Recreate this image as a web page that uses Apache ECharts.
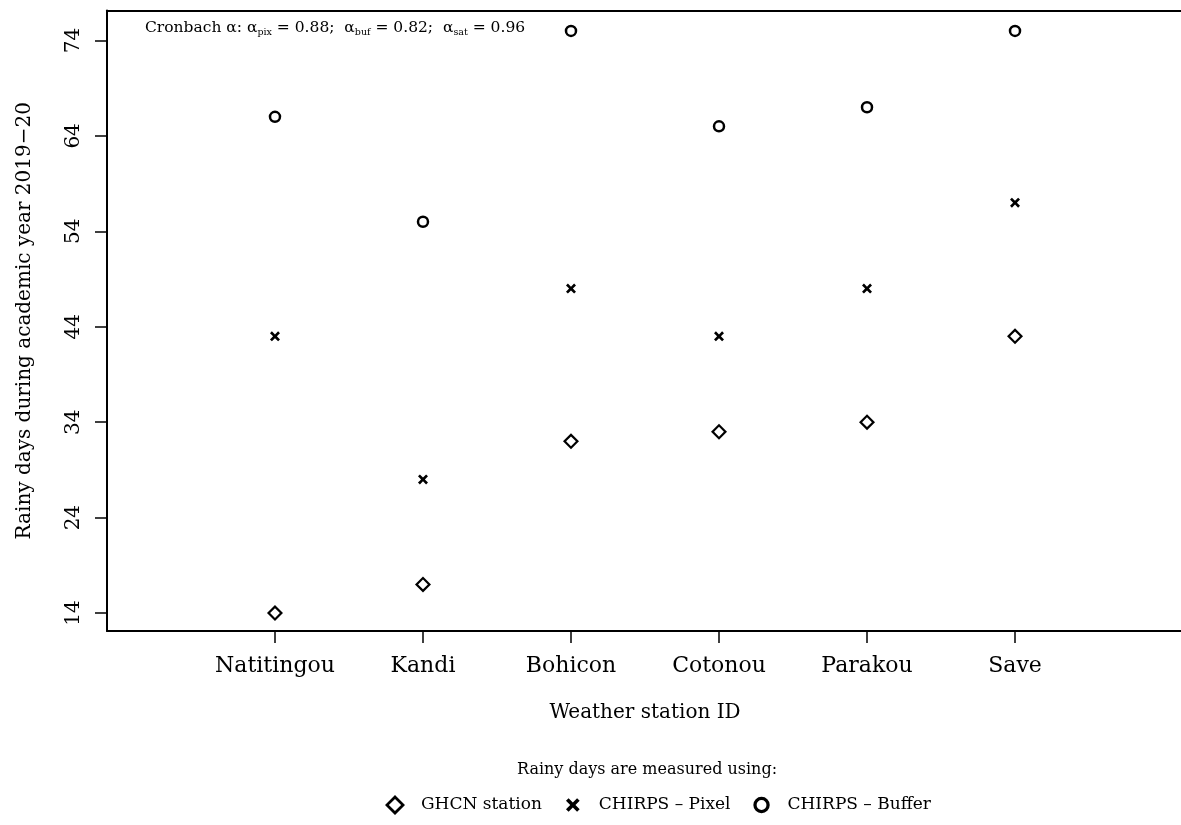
<!DOCTYPE html>
<html>
<head>
<meta charset="utf-8">
<script src="https://cdn.jsdelivr.net/npm/echarts@6/dist/echarts.min.js"></script>
<style>
html,body{margin:0;padding:0;background:#fff;overflow:hidden;}
#chart{width:1181px;height:825px;}
</style>
</head>
<body>
<div id="chart"></div>
<script>
const categories = ['Natitingou', 'Kandi', 'Bohicon', 'Cotonou', 'Parakou', 'Save'];
const ghcnStation = [14, 17, 32, 33, 34, 43];
const chirpsPixel = [43, 28, 48, 43, 48, 57];
const chirpsBuffer = [66, 55, 75, 65, 67, 75];
const yTicks = [14, 24, 34, 44, 54, 64, 74];
const xTicks = [1, 2, 3, 4, 5, 6];
const seriesNames = ['GHCN station', 'CHIRPS \u2013 Pixel', 'CHIRPS \u2013 Buffer'];

const FONT = 'DejaVu Serif';
const toPoints = arr => arr.map((v, i) => [i + 1, v]);
// outline shapes as filled rings (outer path + reversed inner path)
const diamondRing = 'path://M5,0L10,5L5,10L0,5Z M5,1.94L1.94,5L5,8.06L8.06,5Z';
const circleRing = 'path://M0,5A5,5,0,1,1,10,5A5,5,0,1,1,0,5Z M2,5A3,3,0,1,0,8,5A3,3,0,1,0,2,5Z';
const crossPath = 'path://M0,1.9L1.9,0L5,3.1L8.1,0L10,1.9L6.9,5L10,8.1L8.1,10L5,6.9L1.9,10L0,8.1L3.1,5Z';
// legend icons: same shapes with empty margin so they keep their relative sizes
const diamondLegend = diamondRing;
const crossLegend = crossPath + ' M-2.3,-2.3Z M12.3,12.3Z';
const circleLegend = circleRing + ' M-1.1,-1.1Z M11.1,11.1Z';

const X_MIN = -0.135, X_MAX = 7.135;
const lineBlack = {color: '#000', width: 2};

const chart = echarts.init(document.getElementById('chart'), null, {renderer: 'canvas'});
chart.setOption({
  animation: false,
  backgroundColor: '#fff',
  grid: {
    left: 107, top: 10.5, width: 1076, height: 620.5,
    outerBoundsMode: 'none', containLabel: false, show: false
  },
  xAxis: [
    {
      type: 'value', min: X_MIN, max: X_MAX, position: 'bottom',
      name: 'Weather station ID', nameLocation: 'middle', nameGap: 72, nameMoveOverlap: false,
      nameTextStyle: {fontFamily: FONT, fontSize: 20, color: '#000'},
      axisLine: {show: true, onZero: false, lineStyle: lineBlack},
      splitLine: {show: false},
      axisTick: {show: true, inside: false, length: 12, customValues: xTicks, lineStyle: {color: '#000', width: 1.5}},
      axisLabel: {
        customValues: xTicks, margin: 24, fontFamily: FONT, fontSize: 22, color: '#000',
        formatter: v => categories[v - 1]
      }
    },
    {
      type: 'value', min: X_MIN, max: X_MAX, position: 'top',
      axisLine: {show: true, onZero: false, lineStyle: lineBlack},
      splitLine: {show: false}, axisTick: {show: false}, axisLabel: {show: false}
    }
  ],
  yAxis: {
    type: 'value', min: 12.12, max: 77.14,
    name: 'Rainy days during academic year 2019\u221220', nameLocation: 'middle', nameGap: 72, nameRotate: 90,
    nameMoveOverlap: false,
    nameTextStyle: {fontFamily: FONT, fontSize: 20, color: '#000'},
    axisLine: {show: true, onZero: false, lineStyle: lineBlack},
    splitLine: {show: false},
    axisTick: {show: true, inside: false, length: 12, customValues: yTicks, lineStyle: {color: '#000', width: 1.5}},
    axisLabel: {customValues: yTicks, rotate: 90, margin: 23, fontFamily: FONT, fontSize: 20, color: '#000'}
  },
  legend: {
    data: [
      {name: seriesNames[0], icon: diamondLegend},
      {name: seriesNames[1], icon: crossLegend},
      {name: seriesNames[2], icon: circleLegend}
    ],
    left: 380, top: 790,
    itemWidth: 20, itemHeight: 20, itemGap: 21,
    textStyle: {fontFamily: FONT, fontSize: 17, color: '#000', padding: [0, 0, 0, 11]}
  },
  graphic: [
    {
      type: 'text', left: 145, top: 20,
      style: {
        text: '{m|Cronbach \u03b1: \u03b1}{s|pix}{m| = 0.88;  \u03b1}{s|buf}{m| = 0.82;  \u03b1}{s|sat}{m| = 0.96}',
        rich: {
          m: {fontFamily: FONT, fontSize: 15.5, lineHeight: 20, fill: '#000'},
          s: {fontFamily: FONT, fontSize: 9.5, lineHeight: 11, verticalAlign: 'bottom', fill: '#000'}
        }
      }
    },
    {
      type: 'text', x: 647, y: 770,
      style: {text: 'Rainy days are measured using:', fontFamily: FONT, fontSize: 16, fill: '#000', textAlign: 'center', textVerticalAlign: 'middle'}
    }
  ],
  series: [
    {
      name: seriesNames[0], type: 'scatter', data: toPoints(ghcnStation),
      symbol: diamondRing, symbolSize: 16,
      itemStyle: {color: '#000', opacity: 1}
    },
    {
      name: seriesNames[1], type: 'scatter', data: toPoints(chirpsPixel),
      symbol: crossPath, symbolSize: 10,
      itemStyle: {color: '#000', opacity: 1}
    },
    {
      name: seriesNames[2], type: 'scatter', data: toPoints(chirpsBuffer),
      symbol: circleRing, symbolSize: 12.5,
      itemStyle: {color: '#000', opacity: 1}
    }
  ]
});
</script>
</body>
</html>
